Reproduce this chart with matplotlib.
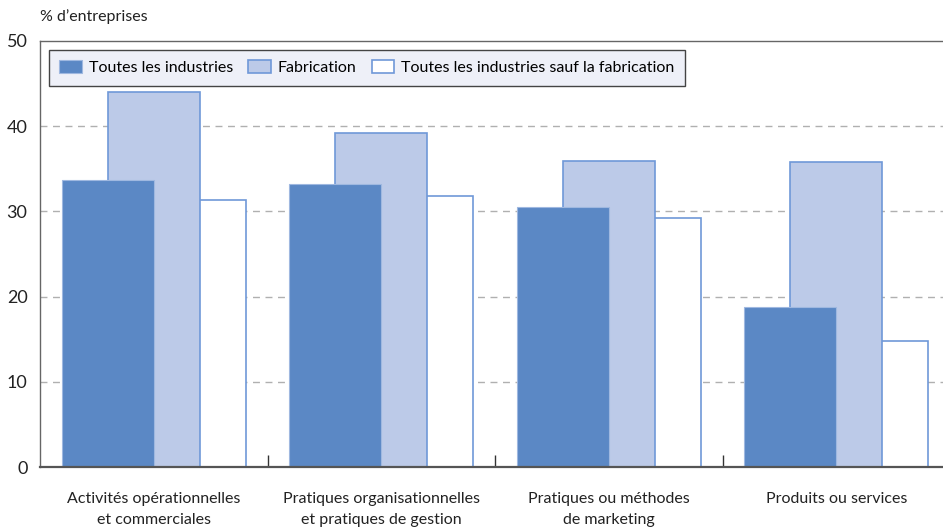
import matplotlib
matplotlib.use("Agg")
import matplotlib.pyplot as plt
import numpy as np

categories = ["Activités opérationnelles\net commerciales",
              "Pratiques organisationnelles\net pratiques de gestion",
              "Pratiques ou méthodes\nde marketing",
              "Produits ou services"]
series_names = ["Toutes les industries", "Fabrication",
                "Toutes les industries sauf la fabrication"]
toutes = [33.7, 33.2, 30.5, 18.8]
fabrication = [44.0, 39.2, 35.9, 35.8]
sauf_fab = [31.3, 31.8, 29.2, 14.8]
yticks = [0, 10, 20, 30, 40, 50]

FONT = ["Lato", "DejaVu Sans"]
plt.rcParams['font.family'] = FONT

W, H = 943, 531
fig = plt.figure(figsize=(W / 100, H / 100), dpi=100)
ax = fig.add_axes([40 / W, (H - 467) / H, 910 / W, (467 - 41) / H])

x = np.arange(len(categories))
bw = 0.404
off = 0.202
dark = "#5b88c5"
light = "#bccae8"
edge_blue = "#6f98d8"

ax.bar(x + off, sauf_fab, bw, color="white", edgecolor=edge_blue, linewidth=1.2,
       zorder=2, label=series_names[2])
ax.bar(x, fabrication, bw, color=light, edgecolor=edge_blue, linewidth=1.2,
       zorder=3, label=series_names[1])
ax.bar(x - off, toutes, bw, color=dark, edgecolor="#9fb8e0", linewidth=0.8,
       zorder=4, label=series_names[0])

ax.set_xlim(-0.5, 3.5)
ax.set_ylim(0, 50)
ax.set_yticks(yticks)
ax.set_yticklabels([str(t) for t in yticks], fontsize=13, color="#222222")
ax.tick_params(axis='y', length=0, pad=9)
for t in yticks[1:-1]:
    ax.axhline(t, color="#b0b0b0", linestyle=(0, (5, 4)), linewidth=1.0, zorder=1)

ax.set_xticks(x)
ax.set_xticklabels(categories, fontsize=11.5, color="#222222", linespacing=1.6)
ax.tick_params(axis='x', which='major', length=0, pad=18)
ax.set_xticks([0.5, 1.5, 2.5], minor=True)
ax.tick_params(axis='x', which='minor', direction='in', length=9, width=1.0,
               color="#333333")

for s in ['left', 'top', 'right']:
    ax.spines[s].set_color("#666666")
    ax.spines[s].set_linewidth(1.0)
ax.spines['bottom'].set_color("#555555")
ax.spines['bottom'].set_linewidth(1.6)
ax.spines['bottom'].set_zorder(6)

handles, labels = ax.get_legend_handles_labels()
order = [2, 1, 0]
leg = ax.legend([handles[i] for i in order], [labels[i] for i in order],
                ncol=3, loc="upper left", bbox_to_anchor=(9 / 910, 1 - 9 / 426),
                frameon=True, fancybox=False, fontsize=11.5,
                handlelength=1.4, handleheight=0.85, columnspacing=0.95,
                handletextpad=0.45, borderpad=0.65, borderaxespad=0)
leg.get_frame().set_facecolor("#eef0f8")
leg.get_frame().set_edgecolor("#444444")
leg.get_frame().set_linewidth(1.0)
leg.get_frame().set_alpha(1)
leg.set_zorder(10)

fig.text(40 / W, 1 - 17 / H, "% d’entreprises", fontsize=11.5, color="#222222",
         ha="left", va="center")

fig.savefig("out.png", dpi=100)
